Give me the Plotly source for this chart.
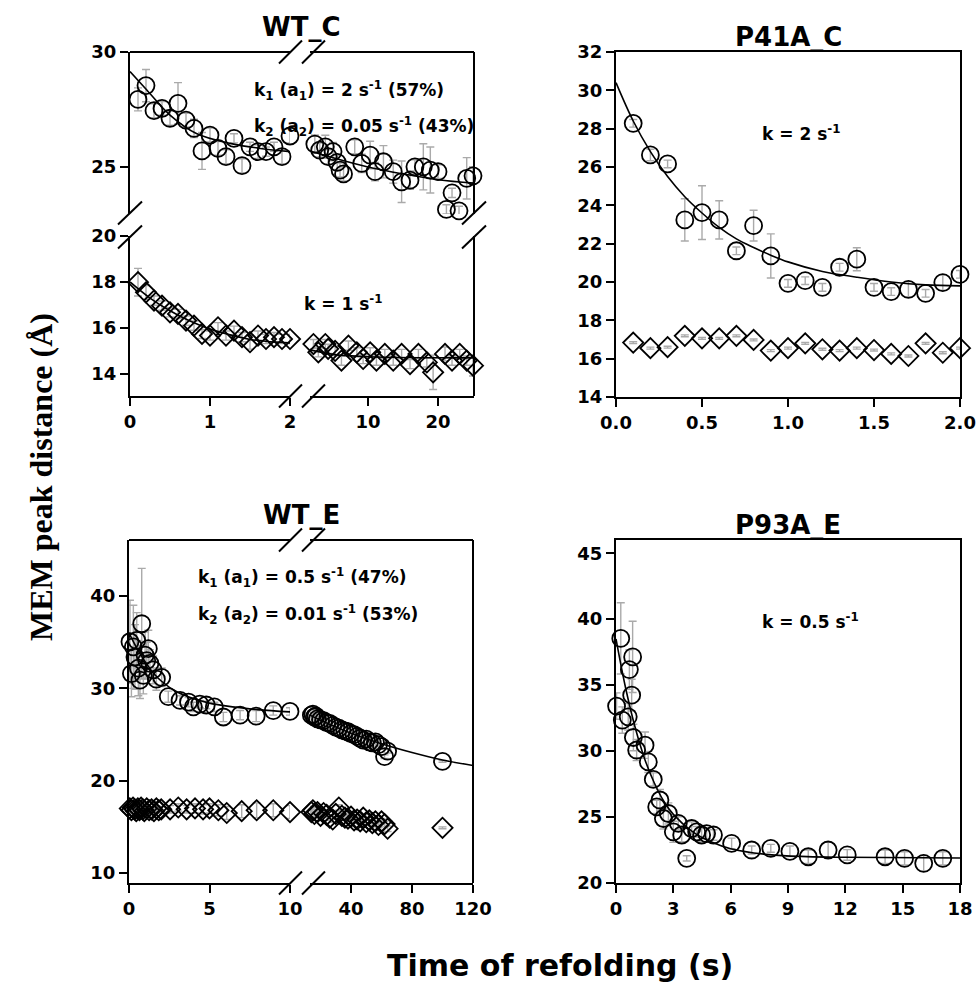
import plotly.graph_objects as go

# ---------------- DATA ----------------
# WT_C  (upper series: circles, lower series: diamonds); x axis broken at 2 s
wtc_circ_t1 = [0.1, 0.2, 0.3, 0.4, 0.5, 0.6, 0.7, 0.8, 0.9, 1.0, 1.1, 1.2, 1.3, 1.4, 1.5, 1.6, 1.7, 1.8, 1.9, 2.0]
wtc_circ_v1 = [27.94, 28.54, 27.45, 27.55, 27.12, 27.77, 27.04, 26.68, 25.70, 26.39, 25.81, 25.45, 26.25, 25.06, 25.88, 25.67, 25.67, 25.88, 25.45, 26.35]
wtc_circ_e1 = [0.5, 0.7, 0.3, 0.3, 0.3, 0.9, 0.3, 0.4, 0.8, 0.3, 0.3, 0.3, 0.2, 0.3, 0.2, 0.3, 0.2, 0.2, 0.3, 0.3]
wtc_circ_t2 = [2.4, 3.1, 3.9, 4.3, 5.0, 5.6, 6.0, 6.5, 8.1, 9.1, 10.3, 11.0, 12.2, 13.6, 14.8, 16.0, 16.7, 17.9, 18.9, 20.0, 21.2, 22.0, 23.0, 24.1, 25.0]
wtc_circ_v2 = [26.0, 25.74, 25.88, 25.45, 25.67, 25.2, 24.87, 24.7, 25.88, 25.16, 25.52, 24.8, 25.23, 24.8, 24.36, 24.43, 25.01, 25.01, 24.87, 24.8, 23.16, 23.88, 23.1, 24.51, 24.62]
wtc_circ_e2 = [0.4, 0.3, 0.5, 0.3, 0.4, 0.3, 0.3, 0.3, 0.3, 0.4, 0.6, 0.4, 0.7, 0.5, 0.9, 0.4, 0.3, 1.0, 1.0, 0.3, 0.2, 0.2, 0.2, 0.9, 0.4]
wtc_fit_c_t1 = [0, 0.21, 0.5, 0.83, 1.25, 1.63, 2.0]
wtc_fit_c_v1 = [29.15, 28.35, 27.26, 26.46, 26.03, 25.81, 25.67]
wtc_fit_c_t2 = [1.7, 5, 10, 15, 20, 25.2]
wtc_fit_c_v2 = [25.7, 25.4, 25.0, 24.7, 24.45, 24.3]

wtc_diam_t1 = [0.1, 0.2, 0.3, 0.4, 0.5, 0.6, 0.7, 0.8, 0.9, 1.0, 1.1, 1.2, 1.3, 1.4, 1.5, 1.6, 1.7, 1.8, 1.9, 2.0]
wtc_diam_v1 = [17.99, 17.55, 17.19, 16.97, 16.68, 16.61, 16.32, 16.10, 15.74, 15.67, 16.03, 15.67, 15.88, 15.60, 15.38, 15.67, 15.52, 15.60, 15.52, 15.52]
wtc_diam_e1 = [0.6, 0.3, 0.2, 0.2, 0.2, 0.2, 0.2, 0.2, 0.2, 0.2, 0.2, 0.2, 0.2, 0.2, 0.3, 0.2, 0.2, 0.2, 0.2, 0.2]
wtc_diam_t2 = [2.2, 2.9, 3.9, 4.3, 5.3, 6.2, 7.2, 8.4, 9.3, 10.3, 11.2, 12.4, 13.6, 14.8, 16.0, 17.2, 18.4, 19.3, 21.0, 22.0, 23.1, 24.1, 25.0]
wtc_diam_v2 = [15.3, 14.94, 15.3, 15.09, 15.0, 14.58, 15.23, 14.94, 14.65, 14.94, 14.58, 14.87, 14.58, 14.87, 14.43, 14.87, 14.5, 14.07, 14.87, 14.58, 14.87, 14.58, 14.36]
wtc_diam_e2 = [0.2, 0.2, 0.2, 0.2, 0.2, 0.2, 0.2, 0.2, 0.2, 0.2, 0.2, 0.2, 0.2, 0.2, 0.2, 0.2, 0.2, 0.75, 0.3, 0.2, 0.2, 0.2, 0.45]
wtc_fit_d_t1 = [0, 0.25, 0.5, 0.75, 1.0, 1.25, 1.5, 1.75, 2.0]
wtc_fit_d_v1 = [18.0, 17.3, 16.75, 16.3, 15.95, 15.7, 15.5, 15.4, 15.35]
wtc_fit_d_t2 = [1.7, 5, 10, 25.2]
wtc_fit_d_v2 = [15.05, 14.85, 14.75, 14.7]

# P41A_C
p41_t = [0.1, 0.2, 0.3, 0.4, 0.5, 0.6, 0.7, 0.8, 0.9, 1.0, 1.1, 1.2, 1.3, 1.4, 1.5, 1.6, 1.7, 1.8, 1.9, 2.0]
p41_circ = [28.28, 26.63, 26.16, 23.24, 23.62, 23.24, 21.63, 22.94, 21.36, 19.93, 20.07, 19.72, 20.77, 21.19, 19.72, 19.50, 19.62, 19.41, 19.97, 20.40]
p41_circ_e = [0.2, 0.3, 0.2, 1.1, 1.4, 1.0, 0.2, 0.8, 1.15, 0.2, 0.2, 0.2, 0.2, 0.6, 0.2, 0.2, 0.4, 0.2, 0.4, 0.2]
p41_diam = [16.84, 16.55, 16.60, 17.19, 17.06, 17.06, 17.19, 16.98, 16.42, 16.55, 16.80, 16.49, 16.42, 16.55, 16.45, 16.25, 16.14, 16.80, 16.31, 16.55]
p41_diam_e = [0.05] * 20
p41_fit_t = [0, 0.1, 0.2, 0.3, 0.4, 0.5, 0.6, 0.7, 0.8, 0.9, 1.0, 1.2, 1.4, 1.6, 1.8, 2.0]
p41_fit_v = [30.4, 28.4, 26.8, 25.5, 24.45, 23.6, 22.85, 22.25, 21.8, 21.4, 21.05, 20.55, 20.25, 20.0, 19.85, 19.8]

# WT_E ; x axis broken at 10 s
wte_circ_t1 = [0.06, 0.15, 0.27, 0.37, 0.48, 0.58, 0.68, 0.79, 0.89, 1.0, 1.1, 1.2, 1.3, 1.5, 1.7, 2.03, 2.44, 3.17, 3.7, 4.0, 4.4, 4.8, 5.3, 5.86, 6.9, 7.9, 8.96, 10.0]
wte_circ_v1 = [35.05, 31.6, 34.5, 33.4, 35.2, 32.2, 30.9, 37.0, 31.4, 33.6, 33.0, 34.3, 32.7, 32.0, 31.0, 31.2, 29.1, 28.7, 28.5, 28.0, 28.3, 28.2, 28.0, 26.9, 27.1, 27.0, 27.6, 27.5]
wte_circ_e1 = [4.5, 2.5, 4.5, 3.5, 3.0, 3.0, 2.0, 6.0, 2.0, 2.5, 2.0, 2.0, 1.5, 1.5, 1.2, 1.0, 0.6, 0.5, 0.5, 0.5, 0.4, 0.4, 0.5, 0.5, 0.5, 0.6, 0.5, 0.4]
wte_circ_t2 = [13, 14, 15, 16, 17, 18, 20, 22, 24, 26, 28, 30, 32, 34, 36, 38, 40, 42, 44, 46, 48, 50, 52, 54, 56, 58, 60, 62, 64, 100]
wte_circ_v2 = [27.4, 27.1, 27.2, 26.9, 27.0, 26.7, 26.6, 26.5, 26.3, 26.2, 26.0, 25.8, 25.7, 25.5, 25.4, 25.3, 25.1, 25.0, 24.8, 24.6, 24.4, 24.5, 24.2, 24.1, 24.2, 23.9, 23.7, 22.6, 23.2, 22.1]
wte_circ_e2 = [0.4, 0.3, 0.4, 0.3, 0.4, 0.3, 0.4, 0.3, 0.4, 0.3, 0.4, 0.5, 0.4, 0.3, 0.5, 0.4, 0.5, 0.4, 0.5, 0.4, 0.5, 0.4, 0.5, 0.4, 0.5, 0.4, 0.3, 0.2, 0.2, 0.1]
wte_fit_c_t1 = [0, 0.5, 1, 1.5, 2, 3, 4, 5, 6, 8, 10]
wte_fit_c_v1 = [36.0, 34.3, 32.9, 31.7, 30.8, 29.6, 28.9, 28.4, 28.1, 27.7, 27.45]
wte_fit_c_t2 = [13, 20, 40, 60, 80, 100, 120]
wte_fit_c_v2 = [27.1, 26.55, 25.15, 24.0, 23.05, 22.25, 21.65]

wte_diam_t1 = [0.05, 0.15, 0.25, 0.35, 0.45, 0.55, 0.65, 0.75, 0.85, 0.95, 1.1, 1.25, 1.4, 1.55, 1.7, 1.85, 2.0, 2.55, 3.06, 3.58, 4.1, 4.6, 5.0, 5.55, 6.07, 7.0, 7.93, 8.96, 10.0]
wte_diam_v1 = [17.0, 16.8, 17.1, 16.9, 16.7, 17.0, 16.8, 17.1, 16.9, 16.7, 17.0, 16.8, 16.9, 16.7, 17.0, 16.8, 16.9, 16.9, 17.1, 16.9, 17.0, 16.9, 17.0, 16.8, 16.5, 16.7, 16.8, 16.8, 16.6]
wte_diam_e1 = [0.3, 0.3, 0.3, 0.3, 0.3, 0.3, 0.3, 0.3, 0.3, 0.3, 0.3, 0.3, 0.3, 0.3, 0.3, 0.3, 0.3, 0.4, 0.4, 0.4, 0.5, 0.5, 0.5, 0.6, 0.7, 0.7, 0.8, 0.7, 0.7]
wte_diam_t2 = [13, 14, 15, 16, 18, 20, 22, 24, 26, 28, 30, 32, 34, 36, 38, 40, 42, 44, 46, 48, 50, 52, 54, 56, 58, 60, 62, 64, 100]
wte_diam_v2 = [16.9, 16.6, 16.8, 16.4, 16.6, 16.2, 16.5, 16.3, 16.0, 15.8, 16.4, 17.1, 16.2, 16.0, 15.9, 16.1, 15.7, 15.8, 15.6, 16.0, 15.5, 15.7, 15.4, 15.6, 15.2, 15.6, 15.3, 14.8, 14.9]
wte_diam_e2 = [0.3] * 28 + [0.1]

# P93A_E
p93_t = [0.03, 0.25, 0.33, 0.64, 0.7, 0.82, 0.87, 0.91, 1.08, 1.52, 1.69, 1.95, 2.13, 2.3, 2.48, 2.74, 3.0, 3.26, 3.44, 3.7, 3.96, 4.22, 4.48, 4.74, 5.1, 6.05, 7.1, 8.1, 9.1, 10.06, 11.1, 12.1, 14.08, 15.1, 16.1, 17.1]
p93_v = [33.41, 38.54, 32.35, 32.6, 36.18, 34.24, 37.14, 31.03, 30.08, 30.45, 29.18, 27.85, 25.77, 26.29, 24.89, 25.27, 23.88, 24.52, 23.64, 21.87, 24.13, 23.88, 23.64, 23.75, 23.64, 23.0, 22.5, 22.63, 22.4, 21.99, 22.5, 22.13, 21.99, 21.87, 21.49, 21.87]
p93_e = [1.0, 2.7, 1.0, 1.0, 1.5, 1.2, 2.7, 1.0, 0.8, 1.0, 0.8, 0.5, 0.5, 0.8, 0.8, 0.8, 0.8, 0.5, 0.5, 0.2, 0.5, 0.4, 0.5, 0.4, 0.4, 0.4, 0.3, 0.3, 0.4, 0.5, 0.6, 0.4, 0.5, 0.5, 0.6, 0.5]
p93_fit_t = [0, 0.5, 1, 1.5, 2, 2.5, 3, 4, 5, 6, 8, 10, 12, 18]
p93_fit_v = [38.5, 34.8, 31.8, 29.4, 27.6, 26.2, 25.2, 23.9, 23.1, 22.6, 22.15, 22.0, 21.95, 21.9]

titles = ["WT_C", "P41A_C", "WT_E", "P93A_E"]
x_title = "Time of refolding (s)"
y_title = "MEM peak distance (Å)"

# ---------------- LAYOUT HELPERS ----------------
W, H = 976, 985
def px(x):
    return x / W
def py(y):
    return 1 - y / H

FONT = "DejaVu Sans"
ERR_COL = "#aaaaaa"

fig = go.Figure()

def pts(x, y, err, xa, ya, symbol, size):
    fig.add_trace(go.Scatter(
        x=x, y=y, xaxis=xa, yaxis=ya, mode="markers",
        marker=dict(symbol=symbol, size=size, color="rgba(0,0,0,0)",
                    line=dict(color="black", width=1.8)),
        error_y=dict(type="data", array=err, color=ERR_COL, thickness=1.4, width=4),
        cliponaxis=False, showlegend=False, hoverinfo="skip"))

def fit(x, y, xa, ya):
    fig.add_trace(go.Scatter(
        x=x, y=y, xaxis=xa, yaxis=ya, mode="lines",
        line=dict(color="black", width=1.6, shape="spline", smoothing=1.0),
        showlegend=False, hoverinfo="skip"))

CIRC, DIAM = 17, 15.5

# WT_C
pts(wtc_circ_t1, wtc_circ_v1, wtc_circ_e1, "x", "y", "circle", CIRC)
pts(wtc_circ_t2, wtc_circ_v2, wtc_circ_e2, "x2", "y", "circle", CIRC)
pts(wtc_diam_t1, wtc_diam_v1, wtc_diam_e1, "x", "y2", "diamond", DIAM)
pts(wtc_diam_t2, wtc_diam_v2, wtc_diam_e2, "x2", "y2", "diamond", DIAM)
fit(wtc_fit_c_t1, wtc_fit_c_v1, "x", "y")
fit(wtc_fit_c_t2, wtc_fit_c_v2, "x2", "y")
fit(wtc_fit_d_t1, wtc_fit_d_v1, "x", "y2")
fit(wtc_fit_d_t2, wtc_fit_d_v2, "x2", "y2")
# P41A_C
pts(p41_t, p41_circ, p41_circ_e, "x3", "y3", "circle", CIRC)
pts(p41_t, p41_diam, p41_diam_e, "x3", "y3", "diamond", DIAM)
fit(p41_fit_t, p41_fit_v, "x3", "y3")
# WT_E
pts(wte_circ_t1, wte_circ_v1, wte_circ_e1, "x4", "y4", "circle", CIRC)
pts(wte_circ_t2, wte_circ_v2, wte_circ_e2, "x5", "y4", "circle", CIRC)
pts(wte_diam_t1, wte_diam_v1, wte_diam_e1, "x4", "y4", "diamond", DIAM)
pts(wte_diam_t2, wte_diam_v2, wte_diam_e2, "x5", "y4", "diamond", DIAM)
fit(wte_fit_c_t1, wte_fit_c_v1, "x4", "y4")
fit(wte_fit_c_t2, wte_fit_c_v2, "x5", "y4")
# P93A_E
pts(p93_t, p93_v, p93_e, "x6", "y6", "circle", CIRC)
fit(p93_fit_t, p93_fit_v, "x6", "y6")

TICKFONT = dict(family=FONT, size=18, color="black", weight="bold")

def axis(dom, rng, tickvals, anchor, mirror=False, fmt=None):
    d = dict(domain=dom, range=rng, tickvals=tickvals, anchor=anchor,
             showline=True, linecolor="black", linewidth=2, mirror=mirror,
             ticks="outside", ticklen=8, tickwidth=2, tickcolor="black",
             showgrid=False, zeroline=False, tickfont=TICKFONT, fixedrange=True,
             automargin=False)
    if fmt:
        d["tickformat"] = fmt
    return d

# Panel geometry (pixels)
L1, B1R, B2L, R1 = 130, 290, 310, 474      # left panels x: seg1 [L1,B1R], seg2 [B2L,R1]
L2, R2 = 616, 960
T1, UB, LT, BOT1 = 52, 214, 236, 396       # WT_C: upper [T1,UB], lower [LT,BOT1]
T2, BOT2 = 540, 883

fig.update_layout(
    width=W, height=H, margin=dict(l=0, r=0, t=0, b=0, pad=0), autosize=False,
    paper_bgcolor="white", plot_bgcolor="rgba(0,0,0,0)",
    xaxis=axis([px(L1), px(B1R)], [0, 2], [0, 1, 2], "y2"),
    xaxis2=axis([px(B2L), px(R1)], [1.71, 25.14], [10, 20], "y2"),
    yaxis=axis([py(UB), py(T1)], [22.96, 30], [25, 30], "x"),
    yaxis2=axis([py(BOT1), py(LT)], [13.04, 20], [14, 16, 18, 20], "x"),
    xaxis3=axis([px(L2), px(R2)], [0, 2], [0, 0.5, 1.0, 1.5, 2.0], "y3", True, ".1f"),
    yaxis3=axis([py(397), py(T1)], [14, 32], list(range(14, 33, 2)), "x3", True),
    xaxis4=axis([px(L1 - 1), px(B1R)], [0, 10], [0, 5, 10], "y4"),
    xaxis5=axis([px(B2L), px(R1 - 1)], [13.1, 120], [40, 80, 120], "y4"),
    yaxis4=axis([py(BOT2), py(T2)], [8.92, 46.07], [10, 20, 30, 40], "x4"),
    xaxis6=axis([px(L2), px(R2)], [0, 18], [0, 3, 6, 9, 12, 15, 18], "y6", True),
    yaxis6=axis([py(BOT2), py(T2)], [20, 46], [20, 25, 30, 35, 40, 45], "x6", True),
)

shapes = []
def edge(xref, yref, x0, x1, y0, y1):
    shapes.append(dict(type="line", xref=xref, yref=yref, x0=x0, x1=x1, y0=y0, y1=y1,
                       line=dict(color="black", width=2)))
# WT_C top & right edges
edge("x domain", "y domain", 0, 1, 1, 1)
edge("x2 domain", "y domain", 0, 1, 1, 1)
edge("x2 domain", "y domain", 1, 1, 0, 1)
edge("x2 domain", "y2 domain", 1, 1, 0, 1)
# WT_E top & right edges
edge("x4 domain", "y4 domain", 0, 1, 1, 1)
edge("x5 domain", "y4 domain", 0, 1, 1, 1)
edge("x5 domain", "y4 domain", 1, 1, 0, 1)

# break marks (pairs of slashes) centred on the gaps
def slash_pair_h(xc, ygap):
    for dx in (-11.5, 11.5):
        cx = xc + dx
        shapes.append(dict(type="line", xref="paper", yref="paper",
                           x0=px(cx - 11.5), y0=py(ygap + 11.5), x1=px(cx + 11.5), y1=py(ygap - 11.5),
                           line=dict(color="black", width=2)))
def slash_pair_v(xc, yc):
    for dy in (-12, 12):
        cy = yc + dy
        shapes.append(dict(type="line", xref="paper", yref="paper",
                           x0=px(xc - 12), y0=py(cy + 11.5), x1=px(xc + 12), y1=py(cy - 11.5),
                           line=dict(color="black", width=2)))

gapx = (B1R + B2L) / 2 + 2
slash_pair_h(gapx, T1)
slash_pair_h(gapx, BOT1)
slash_pair_h(gapx, T2)
slash_pair_h(gapx, BOT2)
gapy = (UB + LT) / 2
slash_pair_v(L1, gapy)
slash_pair_v(R1, gapy)
fig.update_layout(shapes=shapes)

ann = []
def text(x, y, s, size=17, xanchor="left", family=FONT, angle=0):
    ann.append(dict(x=px(x), y=py(y), xref="paper", yref="paper", text=s, showarrow=False,
                    xanchor=xanchor, yanchor="middle", textangle=angle,
                    font=dict(family=family, size=size, color="black")))

text(301, 27, "<b>%s</b>" % titles[0], 26, "center")
text(788, 37, "<b>%s</b>" % titles[1], 26, "center")
text(301, 515, "<b>%s</b>" % titles[2], 26, "center")
text(788, 525, "<b>%s</b>" % titles[3], 26, "center")

text(252, 90, "<b>k<sub>1</sub> (a<sub>1</sub>) = 2 s<sup>-1</sup> (57%)</b>")
text(252, 127, "<b>k<sub>2</sub> (a<sub>2</sub>) = 0.05 s<sup>-1</sup> (43%)</b>")
text(302, 303, "<b>k = 1 s<sup>-1</sup></b>")
text(760, 133, "<b>k = 2 s<sup>-1</sup></b>")
text(196, 577, "<b>k<sub>1</sub> (a<sub>1</sub>) = 0.5 s<sup>-1</sup> (47%)</b>")
text(196, 614, "<b>k<sub>2</sub> (a<sub>2</sub>) = 0.01 s<sup>-1</sup> (53%)</b>")
text(760, 621, "<b>k = 0.5 s<sup>-1</sup></b>")

text(560, 965, "<b>%s</b>" % x_title, 30, "center")
text(41, 477, "<b>%s</b>" % y_title, 32, "center", "Liberation Serif", -90)
fig.update_layout(annotations=ann)

fig.write_html("out.html",
               post_script="document.documentElement.style.margin='0';document.body.style.margin='0';document.body.style.overflow='hidden';")
